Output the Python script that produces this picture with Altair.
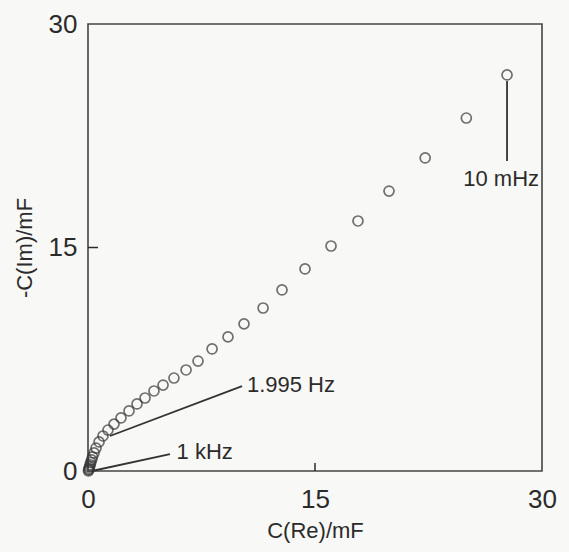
import altair as alt
import pandas as pd

# Data (mF)
c_re = [27.69, 25.00, 22.28, 19.89, 17.84, 16.06, 14.34, 12.82, 11.57, 10.31,
        9.25, 8.20, 7.27, 6.48, 5.68, 4.96, 4.36, 3.77, 3.24, 2.71,
        2.18, 1.72, 1.32, 0.99, 0.73, 0.53, 0.40, 0.30, 0.24, 0.18,
        0.14, 0.10, 0.07, 0.05, 0.03]
c_im = [26.58, 23.69, 21.01, 18.79, 16.78, 15.10, 13.56, 12.15, 10.94, 9.87,
        9.00, 8.19, 7.38, 6.78, 6.24, 5.77, 5.37, 4.90, 4.50, 4.03,
        3.56, 3.15, 2.75, 2.35, 1.95, 1.54, 1.21, 0.95, 0.75, 0.57,
        0.42, 0.28, 0.16, 0.07, 0.01]

ann_text = ["1 kHz", "1.995 Hz", "10 mHz"]
ann_x1 = [0.26, 1.45, 27.69]
ann_y1 = [0.00, 2.35, 26.17]
ann_x2 = [5.42, 10.18, 27.69]
ann_y2 = [1.14, 5.70, 20.80]
ann_tx = [5.85, 10.50, 27.30]
ann_ty = [1.25, 5.75, 19.60]
ann_align = ["left", "left", "center"]

W, H = 454, 447
FONT = "Liberation Sans"
INK = "#2b2b2b"

pts = pd.DataFrame({"re": c_re, "im": c_im})
ann = pd.DataFrame({"text": ann_text, "x1": ann_x1, "y1": ann_y1,
                    "x2": ann_x2, "y2": ann_y2, "tx": ann_tx, "ty": ann_ty,
                    "align": ann_align})

xs = alt.Scale(domain=[0, 30], nice=False, zero=False)
ys = alt.Scale(domain=[0, 30], nice=False, zero=False)

xaxis = alt.Axis(values=[0, 15, 30], title="C(Re)/mF", grid=False, domain=False,
                 ticks=False, labelPadding=15, labelFontSize=26, labelFont=FONT,
                 labelColor=INK, titleFont=FONT, titleFontSize=22,
                 titleFontWeight="normal", titleColor=INK, titlePadding=8,
                 labelFlush=False)
yaxis = alt.Axis(values=[0, 15, 30], title="-C(Im)/mF", grid=False, domain=False,
                 ticks=False, labelPadding=11, labelFontSize=26, labelFont=FONT,
                 labelColor=INK, titleFont=FONT, titleFontSize=22,
                 titleFontWeight="normal", titleColor=INK, titlePadding=12,
                 labelFlush=False)

points = alt.Chart(pts).mark_point(shape="circle", filled=False, size=100,
                                   strokeWidth=1.7, color="#363636").encode(
    x=alt.X("re:Q", scale=xs, axis=xaxis),
    y=alt.Y("im:Q", scale=ys, axis=yaxis),
)

lines = alt.Chart(ann).mark_rule(strokeWidth=1.8, color="#333333").encode(
    x=alt.X("x1:Q", scale=xs), y=alt.Y("y1:Q", scale=ys),
    x2="x2:Q", y2="y2:Q",
)

labels_left = alt.Chart(ann).transform_filter(alt.datum.align == "left").mark_text(
    align="left", baseline="middle", font=FONT, fontSize=22, color=INK).encode(
    x=alt.X("tx:Q", scale=xs), y=alt.Y("ty:Q", scale=ys), text="text:N")

labels_center = alt.Chart(ann).transform_filter(alt.datum.align == "center").mark_text(
    align="center", baseline="middle", font=FONT, fontSize=22, color=INK).encode(
    x=alt.X("tx:Q", scale=xs), y=alt.Y("ty:Q", scale=ys), text="text:N")

tick_vals = pd.DataFrame({"v": [15]})
xtick = alt.Chart(tick_vals).mark_rule(strokeWidth=1.5, color=INK).encode(
    x=alt.X("v:Q", scale=xs), y=alt.value(H), y2=alt.value(H - 8))
ytick = alt.Chart(tick_vals).mark_rule(strokeWidth=1.5, color=INK).encode(
    y=alt.Y("v:Q", scale=ys), x=alt.value(0), x2=alt.value(10))

chart = alt.layer(points, lines, labels_left, labels_center, xtick, ytick).properties(
    width=W, height=H,
    autosize=alt.AutoSizeParams(type="none"),
    padding={"left": 88, "top": 24, "right": 27, "bottom": 81},
    background="#f8f8f6",
).configure_view(stroke="#444444", strokeWidth=1.6)

chart.save("out.html", embed_options={"renderer": "svg", "actions": False})
